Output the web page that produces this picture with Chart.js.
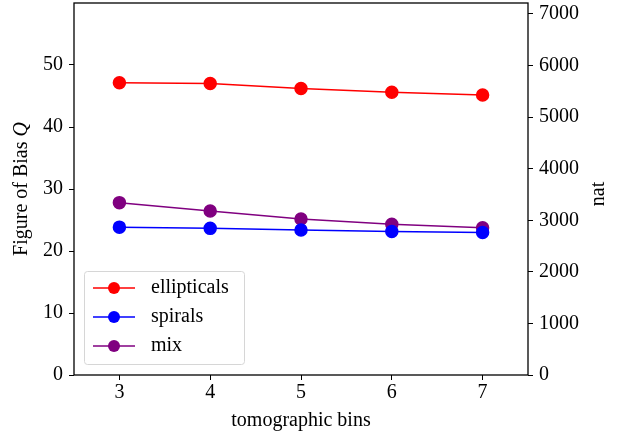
<!DOCTYPE html>
<html>
<head>
<meta charset="utf-8">
<script src="https://cdn.jsdelivr.net/npm/chart.js@4/dist/chart.umd.min.js"></script>
<style>
  html, body { margin: 0; padding: 0; background: #fff; }
  #wrap { width: 619px; height: 437px; }
</style>
</head>
<body>
<div id="wrap"><canvas id="myChart" width="619" height="437"></canvas></div>
<script>
'use strict';
//data
var bins = [3, 4, 5, 6, 7];
var ellipticals = [47.15, 47.0, 46.2, 45.6, 45.15];
var spirals = [23.85, 23.65, 23.4, 23.15, 23.0];
var mix = [27.8, 26.45, 25.15, 24.3, 23.75];
var leftTicks = [0, 10, 20, 30, 40, 50];
var rightTicks = [0, 1000, 2000, 3000, 4000, 5000, 6000, 7000];

var FONT = '"Liberation Serif", "DejaVu Serif", serif';

function toPoints(values){
  var pts = [];
  for(var i = 0; i < bins.length; i++){
    pts.push({x: bins[i], y: values[i]});
  }
  return pts;
}

function makeSet(label, values, color){
  return {
    label: label,
    data: toPoints(values),
    borderColor: color,
    backgroundColor: color,
    pointBackgroundColor: color,
    pointBorderColor: color,
    borderWidth: 1.5,
    pointRadius: 6,
    pointHoverRadius: 6,
    yAxisID: 'y',
    tension: 0,
  };
}

//frame, axis titles and legend
var extrasPlugin = {
  id: 'extras',
  afterDraw: function(chart){
    var ctx = chart.ctx;
    var a = chart.chartArea;
    ctx.save();
    ctx.strokeStyle = '#000';
    ctx.lineWidth = 1.3;
    ctx.strokeRect(a.left, a.top, a.right - a.left, a.bottom - a.top);

    ctx.fillStyle = '#000';
    ctx.textBaseline = 'middle';
    ctx.textAlign = 'center';
    ctx.font = '20px ' + FONT;
    ctx.fillText('tomographic bins', (a.left + a.right) / 2, 421);

    //left title with italic Q
    ctx.save();
    ctx.translate(22, 189);
    ctx.rotate(-Math.PI / 2);
    ctx.font = '20px ' + FONT;
    var t1 = 'Figure of Bias ';
    var w1 = ctx.measureText(t1).width;
    ctx.font = 'italic 20px ' + FONT;
    var w2 = ctx.measureText('Q').width;
    var start = -(w1 + w2) / 2;
    ctx.textAlign = 'left';
    ctx.font = '20px ' + FONT;
    ctx.fillText(t1, start, 0);
    ctx.font = 'italic 20px ' + FONT;
    ctx.fillText('Q', start + w1, 0);
    ctx.restore();

    //right title
    ctx.save();
    ctx.translate(599, 194);
    ctx.rotate(-Math.PI / 2);
    ctx.font = '20px ' + FONT;
    ctx.textAlign = 'center';
    ctx.fillText('nat', 0, 0);
    ctx.restore();

    //legend box
    var lx = 84, ly = 271, lw = 160, lh = 93;
    ctx.strokeStyle = '#d6d6d6';
    ctx.lineWidth = 1;
    ctx.fillStyle = 'rgba(255,255,255,0.8)';
    ctx.beginPath();
    ctx.roundRect(lx + 0.5, ly + 0.5, lw, lh, 3);
    ctx.fill();
    ctx.stroke();
    ctx.font = '20px ' + FONT;
    ctx.textAlign = 'left';
    var sets = chart.data.datasets;
    for(var i = 0; i < sets.length; i++){
      var yy = 288 + i * 29;
      ctx.strokeStyle = sets[i].borderColor;
      ctx.lineWidth = 1.5;
      ctx.beginPath();
      ctx.moveTo(93, yy);
      ctx.lineTo(135, yy);
      ctx.stroke();
      ctx.fillStyle = sets[i].borderColor;
      ctx.beginPath();
      ctx.arc(114, yy, 6, 0, Math.PI * 2);
      ctx.fill();
      ctx.fillStyle = '#000';
      ctx.fillText(sets[i].label, 151, yy);
    }
    ctx.restore();
  }
};

var tickFont = { family: FONT, size: 20 };
function plain(v){ return String(v); }

var config = {
  type: 'line',
  data: {
    datasets: [
      makeSet('ellipticals', ellipticals, '#ff0000'),
      makeSet('spirals', spirals, '#0000ff'),
      makeSet('mix', mix, '#800080'),
    ]
  },
  options: {
    responsive: false,
    animation: false,
    layout: { autoPadding: false, padding: { top: 3, left: 0, right: 0, bottom: 0 } },
    plugins: {
      legend: { display: false },
      tooltip: { enabled: false },
    },
    scales: {
      x: {
        type: 'linear',
        min: 2.5,
        max: 7.5,
        afterBuildTicks: function(scale){
          scale.ticks = bins.map(function(v){ return {value: v}; });
        },
        afterFit: function(scale){
          scale.height = 62;
          scale.paddingLeft = 0;
          scale.paddingRight = 0;
        },
        grid: { drawOnChartArea: false, color: '#000', tickLength: 5, tickWidth: 1 },
        border: { display: false },
        ticks: { color: '#000', font: tickFont, padding: 1, maxRotation: 0, callback: plain },
      },
      y: {
        position: 'left',
        min: 0,
        max: 60,
        afterBuildTicks: function(scale){
          scale.ticks = leftTicks.map(function(v){ return {value: v}; });
        },
        afterFit: function(scale){
          scale.width = 74;
          scale.paddingTop = 0;
          scale.paddingBottom = 0;
        },
        grid: { drawOnChartArea: false, color: '#000', tickLength: 5, tickWidth: 1 },
        border: { display: false },
        ticks: { color: '#000', font: tickFont, padding: 6, callback: plain },
      },
      y2: {
        position: 'right',
        min: 0,
        max: 7213,
        afterBuildTicks: function(scale){
          scale.ticks = rightTicks.map(function(v){ return {value: v}; });
        },
        afterFit: function(scale){
          scale.width = 91;
          scale.paddingTop = 0;
          scale.paddingBottom = 0;
        },
        grid: { drawOnChartArea: false, color: '#000', tickLength: 5, tickWidth: 1 },
        border: { display: false },
        ticks: { color: '#000', font: tickFont, padding: 6, callback: plain },
      },
    }
  },
  plugins: [extrasPlugin],
};

var ctx = document.getElementById('myChart').getContext('2d');
new Chart(ctx, config);
</script>
</body>
</html>
